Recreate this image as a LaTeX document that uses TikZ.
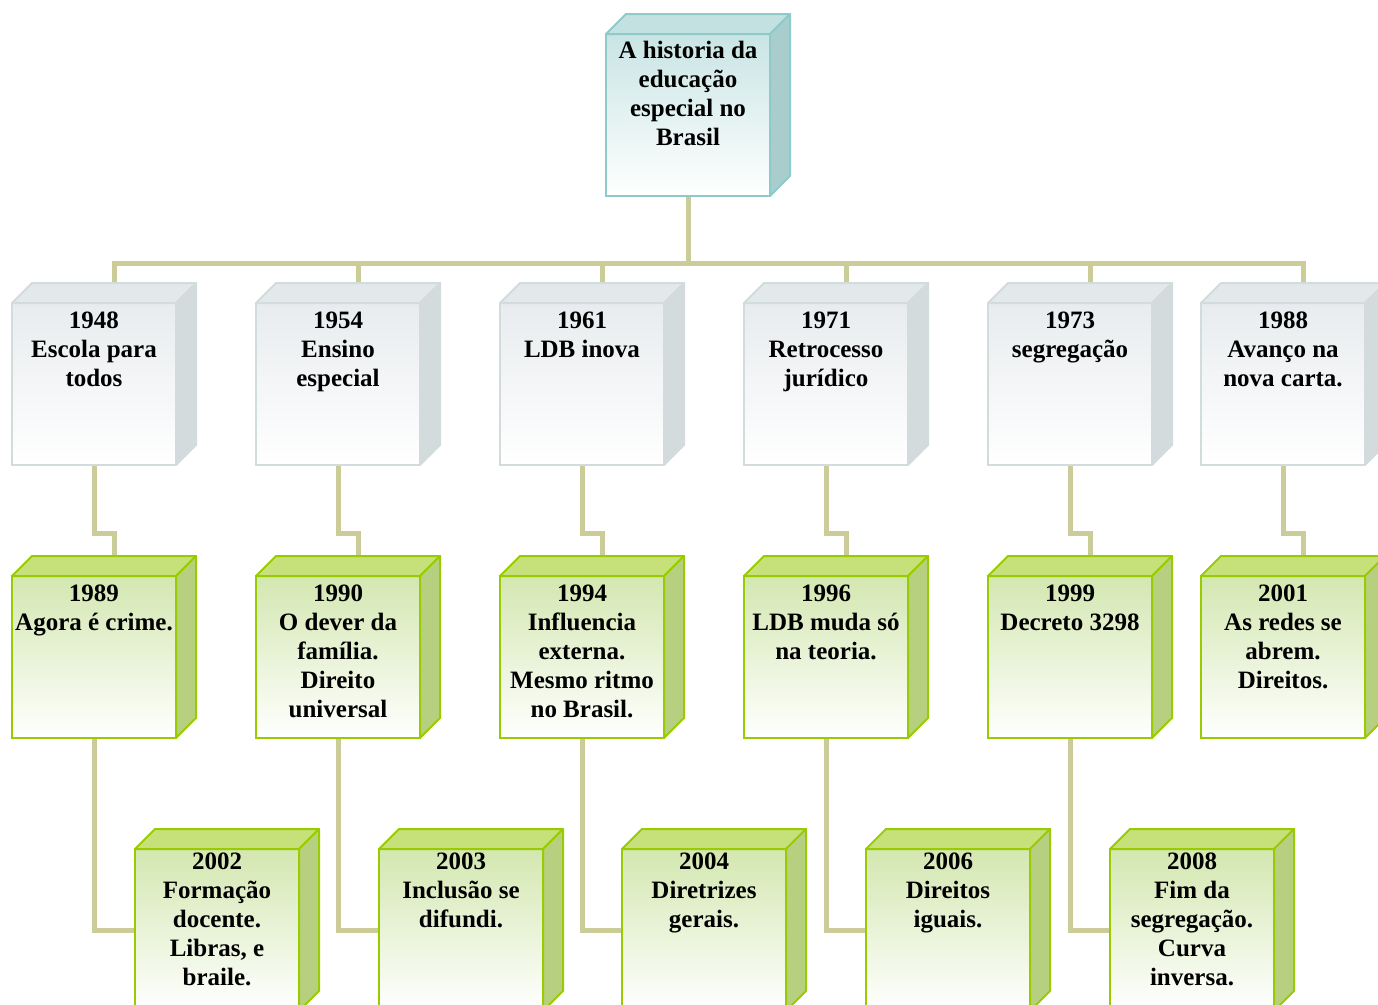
\documentclass[tikz,border=0pt]{standalone}
\usepackage{fontspec}
\setmainfont{Liberation Serif}
\usetikzlibrary{calc}
\definecolor{connc}{HTML}{CCCC99}
\definecolor{tbBorder}{HTML}{8FCACA}
\definecolor{tbFront}{HTML}{C9E4E4}
\definecolor{tbTop}{HTML}{C3E1E1}
\definecolor{tbRight}{HTML}{A9CDCD}
\definecolor{gyBorder}{HTML}{D2DCDD}
\definecolor{gyFront}{HTML}{E8ECEE}
\definecolor{gyTop}{HTML}{E3E8EA}
\definecolor{gyRight}{HTML}{D4DBDD}
\definecolor{grBorder}{HTML}{99CC00}
\definecolor{grFront}{HTML}{D3E7B0}
\definecolor{grTop}{HTML}{C6E17A}
\definecolor{grRight}{HTML}{B7D07F}
\pgfdeclarelayer{bg}
\pgfsetlayers{bg,main}
\tikzset{
  boxbase/.style={anchor=north west, inner sep=0pt, outer sep=0pt, line width=2pt,
    font=\fontsize{25}{29}\selectfont\bfseries, text=black},
  tbfront/.style={boxbase, draw=tbBorder, top color=tbFront, bottom color=white},
  tbtop/.style={draw=tbBorder, fill=tbTop, line width=2pt, line join=round},
  tbright/.style={draw=tbBorder, fill=tbRight, line width=2pt, line join=round},
  gyfront/.style={boxbase, draw=gyBorder, top color=gyFront, bottom color=white},
  gytop/.style={draw=gyBorder, fill=gyTop, line width=2pt, line join=round},
  gyright/.style={draw=gyBorder, fill=gyRight, line width=2pt, line join=round},
  grfront/.style={boxbase, draw=grBorder, top color=grFront, bottom color=white},
  grtop/.style={draw=grBorder, fill=grTop, line width=2pt, line join=round},
  grright/.style={draw=grBorder, fill=grRight, line width=2pt, line join=round},
  connline/.style={draw=connc, line width=5pt}
}
\newcommand\cubebox[6]{%
  \node[#2front] (#1) at (#3,#4) {\parbox[c][162pt][t]{164pt}{\vspace*{#5}\centering #6}};
  \filldraw[#2top] (#1.north west) -- ++(20,-20) -- ++(164,0) -- (#1.north east) -- cycle;
  \filldraw[#2right] (#1.north east) -- ++(20,-20) -- ++(0,162) -- (#1.south east) -- cycle;
  \coordinate (#1-back) at ($(#1.north)+(20,-20)$);
}
\begin{document}
\begin{tikzpicture}[x=1pt,y=-1pt]
\useasboundingbox (0,0) rectangle (1378,1004);
\clip (0,0) rectangle (1378,1004);
% top
\cubebox{T}{tb}{606}{34}{7.5pt}{A historia da\\educação\\especial no\\Brasil}
% row 1
\cubebox{a1}{gy}{12}{303}{8.5pt}{1948\\Escola para\\todos}
\cubebox{a2}{gy}{256}{303}{8.5pt}{1954\\Ensino\\especial}
\cubebox{a3}{gy}{500}{303}{8.5pt}{1961\\LDB inova}
\cubebox{a4}{gy}{744}{303}{8.5pt}{1971\\Retrocesso\\jurídico}
\cubebox{a5}{gy}{988}{303}{8.5pt}{1973\\segregação}
\cubebox{a6}{gy}{1201}{303}{8.5pt}{1988\\Avanço na\\nova carta.}
% row 2
\cubebox{b1}{gr}{12}{576}{8.5pt}{1989\\Agora é crime.}
\cubebox{b2}{gr}{256}{576}{8.5pt}{1990\\O dever da\\família.\\Direito\\universal}
\cubebox{b3}{gr}{500}{576}{8.5pt}{1994\\Influencia\\externa.\\Mesmo ritmo\\no Brasil.}
\cubebox{b4}{gr}{744}{576}{8.5pt}{1996\\LDB muda só\\na teoria.}
\cubebox{b5}{gr}{988}{576}{8.5pt}{1999\\Decreto 3298}
\cubebox{b6}{gr}{1201}{576}{8.5pt}{2001\\As redes se\\abrem.\\Direitos.}
% row 3
\cubebox{c1}{gr}{135}{849}{4pt}{2002\\Formação\\docente.\\Libras, e\\braile.}
\cubebox{c2}{gr}{379}{849}{4pt}{2003\\Inclusão se\\difundi.}
\cubebox{c3}{gr}{622}{849}{4pt}{2004\\Diretrizes\\gerais.}
\cubebox{c4}{gr}{866}{849}{4pt}{2006\\Direitos\\iguais.}
\cubebox{c5}{gr}{1110}{849}{4pt}{2008\\Fim da\\segregação.\\Curva\\inversa.}
% connectors
\begin{pgfonlayer}{bg}
\foreach \n in {a1,a2,a3,a4,a5,a6}
  \draw[connline] (T.south) -- ++(0,67) -| (\n-back);
\foreach \u/\l in {a1/b1,a2/b2,a3/b3,a4/b4,a5/b5,a6/b6}
  \draw[connline] (\u.south) -- ++(0,68) -| (\l-back);
\foreach \u/\l in {b1/c1,b2/c2,b3/c3,b4/c4,b5/c5}
  \draw[connline] (\u.south) |- (\l.west);
\end{pgfonlayer}
\end{tikzpicture}
\end{document}
